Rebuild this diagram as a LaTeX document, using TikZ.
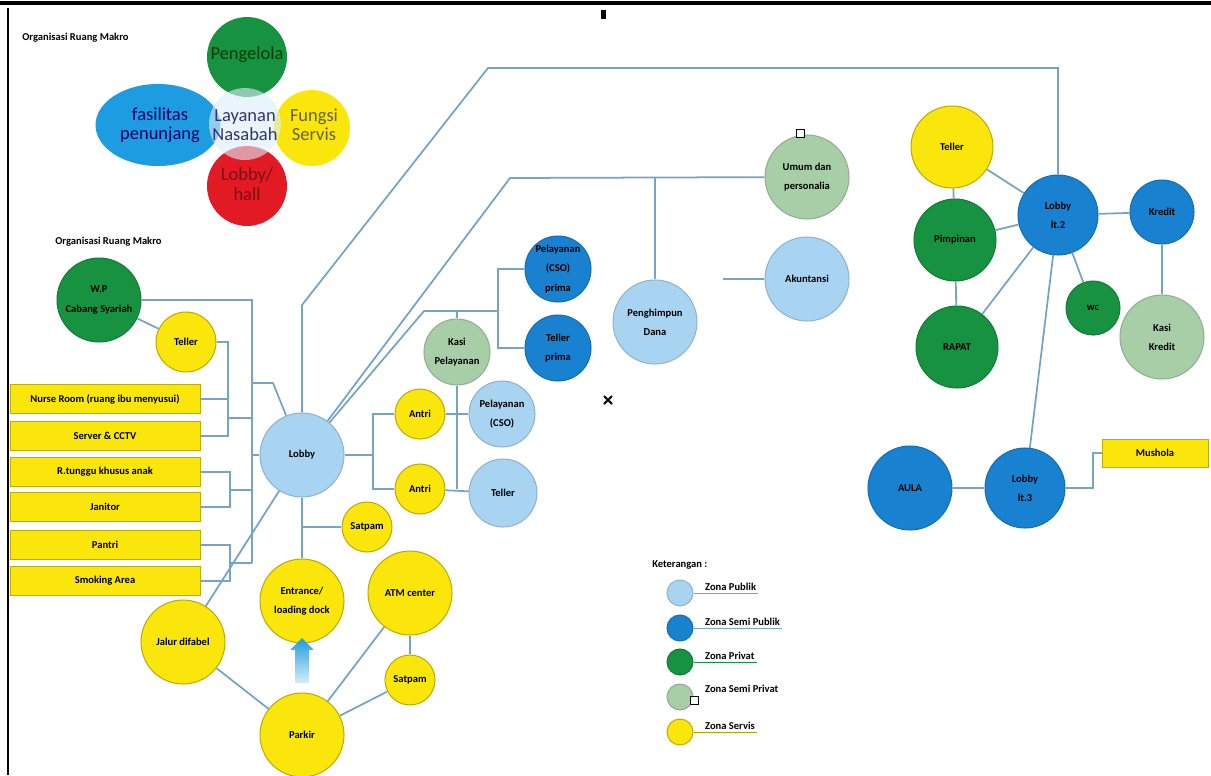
\documentclass[tikz,border=0pt]{standalone}
\usepackage{fontspec}
\setmainfont{Carlito}
\usetikzlibrary{shapes.geometric,shapes.arrows}

\definecolor{zpubc}{RGB}{168,212,242}
\definecolor{zsemipubc}{RGB}{24,130,208}
\definecolor{zprivc}{RGB}{22,146,64}
\definecolor{zsemiprivc}{RGB}{168,206,168}
\definecolor{zservc}{RGB}{250,230,10}
\definecolor{linkc}{RGB}{118,165,195}
\definecolor{hallred}{RGB}{226,26,36}
\definecolor{fasblue}{RGB}{30,156,226}

\newcommand{\zonefont}{\bfseries\fontsize{6}{11}\selectfont}
\newcommand{\bigfont}{\fontsize{10.5}{11}\selectfont}

\begin{document}
\begin{tikzpicture}[x=0.02cm,y=-0.02cm]

\tikzstyle{zone}=[circle,draw,inner sep=0pt,align=center,font=\zonefont,line width=0.6pt]
\tikzstyle{zpub}=[zone,fill=zpubc,draw=zpubc!85!black]
\tikzstyle{zsemipub}=[zone,fill=zsemipubc,draw=zsemipubc!85!black]
\tikzstyle{zpriv}=[zone,fill=zprivc,draw=zprivc!85!black]
\tikzstyle{zsemipriv}=[zone,fill=zsemiprivc,draw=zsemiprivc!85!black]
\tikzstyle{zserv}=[zone,fill=zservc,draw=zservc!75!black]
\tikzstyle{roombox}=[rectangle,draw=zservc!75!black,fill=zservc,minimum width=3.8cm,minimum height=0.58cm,inner sep=0pt,font=\zonefont]
\tikzstyle{link}=[draw=linkc,line width=1pt]
\tikzstyle{title}=[font=\zonefont,anchor=west,inner sep=0pt]
\tikzstyle{leglab}=[font=\zonefont,anchor=south west,inner sep=1pt]
\tikzstyle{bigzone}=[circle,inner sep=0pt,align=center,font=\bigfont]
\tikzset{rad/.style={minimum size=#1*0.04cm}}

\useasboundingbox (0,0) rectangle (1211,775);
\fill[white] (0,0) rectangle (1211,775);
\draw[line width=2.6pt] (0,3) -- (1211,3);
\draw[line width=1.2pt] (8,8) -- (8,775);
\fill (601,10) rectangle (606,19);
\draw[line width=1.1pt] (604,396) -- (612,404) (604,404) -- (612,396);

% makro
\node[title] (makro1) at (22,38) {Organisasi Ruang Makro};
\node[ellipse,fill=fasblue,minimum width=2.5cm,minimum height=1.64cm,inner sep=0pt] (fasilitas) at (158,125) {};
\node[bigzone,fill=zprivc,rad=40] (pengelola) at (247,57) {};
\node[bigzone,fill=hallred,rad=40] (hall) at (247,186) {};
\node[bigzone,fill=zservc,rad=38] (fungsi) at (312,128) {};
\node[bigzone,fill=zpubc!40!white,fill opacity=0.6,rad=36] (layanan) at (245,124) {};
\node[font=\bigfont,align=center,text=black!75!green] at (247,55) {Pengelola};
\node[font=\bigfont,align=center,text=blue!40!black] at (160,125) {fasilitas\\penunjang};
\node[font=\bigfont,align=center,text=blue!30!black!80] at (245,125) {Layanan\\Nasabah};
\node[font=\bigfont,align=center,text=black!70!yellow] at (314,125) {Fungsi\\Servis};
\node[font=\bigfont,align=center,text=hallred!55!black] at (247,184) {Lobby/\\hall};

% mikro
\node[title] (makro2) at (55,242) {Organisasi Ruang Makro};

\node[zpriv,rad=42] (wp) at (99,300) {W.P\\Cabang Syariah};
\node[zserv,rad=30] (tellerA) at (186,342) {Teller};
\node[roombox] (nurse) at (105,399) {Nurse Room (ruang ibu menyusui)};
\node[roombox] (server) at (105,436) {Server \& CCTV};
\node[roombox] (rtunggu) at (105,472) {R.tunggu khusus anak};
\node[roombox] (janitor) at (105,507) {Janitor};
\node[roombox] (pantri) at (105,545) {Pantri};
\node[roombox] (smoking) at (105,581) {Smoking Area};

\node[zpub,rad=42] (lobby) at (302,455) {Lobby};
\node[zserv,rad=25] (antri1) at (420,414) {Antri};
\node[zserv,rad=25] (antri2) at (420,489) {Antri};
\node[zserv,rad=25] (satpamA) at (367,527) {Satpam};
\node[zsemipriv,rad=33] (kasi) at (457,352) {Kasi\\Pelayanan};
\node[zpub,rad=33] (cso) at (502,414) {Pelayanan\\(CSO)};
\node[zpub,rad=34] (tellerB) at (503,493) {Teller};
\node[zsemipub,rad=33] (csoprima) at (558,269) {Pelayanan\\(CSO)\\prima};
\node[zsemipub,rad=33] (tellerprima) at (558,348) {Teller\\prima};
\node[zpub,rad=42] (penghimpun) at (655,322) {Penghimpun\\Dana};
\node[zsemipriv,rad=42] (umum) at (807,177) {Umum dan\\personalia};
\node[zpub,rad=42] (akuntansi) at (807,279) {Akuntansi};

\node[zserv,rad=42] (entrance) at (302,601) {Entrance/\\loading dock};
\node[zserv,rad=42] (atm) at (410,593) {ATM center};
\node[zserv,rad=25] (satpamB) at (410,680) {Satpam};
\node[zserv,rad=42] (jalur) at (183,642) {Jalur difabel};
\node[zserv,rad=42] (parkir) at (302,735) {Parkir};
\node[single arrow,shape border rotate=90,minimum height=0.9cm,inner sep=0.13cm,
  single arrow head extend=0.1cm,top color=fasblue,bottom color=zpubc!45!white] (masuk) at (302,664) {};

% lantai 2 dan 3
\node[zserv,rad=41] (tellerC) at (952,147) {Teller};
\node[zsemipub,rad=40] (lobby2) at (1058,215) {Lobby\\lt.2};
\node[zpriv,rad=41] (pimpinan) at (955,240) {Pimpinan};
\node[zpriv,rad=41] (rapat) at (957,347) {RAPAT};
\node[zsemipub,rad=32] (kredit) at (1162,212) {Kredit};
\node[zpriv,rad=27] (wc) at (1093,308) {wc};
\node[zsemipriv,rad=42] (kasikredit) at (1162,337) {Kasi\\Kredit};
\node[zsemipub,rad=42] (aula) at (910,488) {AULA};
\node[zsemipub,rad=40] (lobby3) at (1025,488) {Lobby\\lt.3};
\node[roombox,minimum width=2.12cm,minimum height=0.56cm] (mushola) at (1155,453) {Mushola};

% simpul
\coordinate (jW) at (252,300);
\coordinate (jW2) at (252,383);
\coordinate (jW3) at (273,383);
\coordinate (jA) at (228,418);
\coordinate (jA2) at (252,418);
\coordinate (jL) at (252,455);
\coordinate (jB) at (230,490);
\coordinate (jB2) at (252,490);
\coordinate (jC) at (230,563);
\coordinate (jC2) at (252,563);
\coordinate (jR) at (373,455);
\coordinate (jK) at (457,489);
\coordinate (jS) at (302,527);
\coordinate (jP1) at (302,305);
\coordinate (jP2) at (488,68);
\coordinate (jQ1) at (510,178);
\coordinate (jQ2) at (655,178);
\coordinate (jT1) at (424,311);
\coordinate (jT2) at (498,311);
\coordinate (jT3) at (457,311);
\coordinate (jAk) at (723,279);
\coordinate (jM) at (1093,488);

\path[link] (wp) -| (jW2) -- (jW3) -- (lobby);
\path[link] (jW2) -- (jC2);
\path[link] (wp) -- (tellerA);
\path[link] (tellerA) -| (jA) -- (jA2);
\path[link] (nurse) -| (jA);
\path[link] (server) -| (jA);
\path[link] (jL) -- (lobby);
\path[link] (rtunggu) -| (jB) -- (jB2);
\path[link] (janitor) -| (jB);
\path[link] (pantri) -| (jC) -- (jC2);
\path[link] (smoking) -| (jC);

\path[link] (lobby) -- (jR);
\path[link] (antri1) -| (jR) |- (antri2);
\path[link] (antri1) -- (cso);
\path[link] (antri2) -- (tellerB);
\path[link] (kasi) -- (jK);

\path[link] (lobby) -- (jP1) -- (jP2) -| (lobby2);
\path[link] (lobby) -- (jQ1) -- (umum);
\path[link] (jQ2) -- (penghimpun);
\path[link] (lobby) -- (jT1) -- (jT2);
\path[link] (jT3) -- (kasi);
\path[link] (csoprima) -| (jT2) |- (tellerprima);
\path[link] (jAk) -- (akuntansi);

\path[link] (lobby) -- (entrance);
\path[link] (jS) -- (satpamA);
\path[link] (lobby) -- (jalur);
\path[link] (jalur) -- (parkir);
\path[link] (parkir) -- (atm);
\path[link] (parkir) -- (satpamB);
\path[link] (atm) -- (satpamB);

\path[link] (tellerC) -- (lobby2);
\path[link] (tellerC) -- (pimpinan);
\path[link] (pimpinan) -- (lobby2);
\path[link] (pimpinan) -- (rapat);
\path[link] (rapat) -- (lobby2);
\path[link] (lobby2) -- (kredit);
\path[link] (kredit) -- (kasikredit);
\path[link] (lobby2) -- (wc);
\path[link] (lobby2) -- (lobby3);
\path[link] (aula) -- (lobby3);
\path[link] (lobby3) -- (jM) |- (mushola);

\draw[fill=white,line width=0.5pt] (796,129) rectangle (804,137);

% keterangan
\node[title] (ket) at (652,565) {Keterangan :};
\node[zpub,rad=13] (lg1) at (680,593) {};
\node[zsemipub,rad=13] (lg2) at (680,628) {};
\node[zpriv,rad=13] (lg3) at (680,662) {};
\node[zsemipriv,rad=13] (lg4) at (680,697) {};
\node[zserv,rad=13] (lg5) at (680,732) {};
\node[leglab] (lab1) at (703,593) {Zona Publik};
\node[leglab] (lab2) at (703,628) {Zona Semi Publik};
\node[leglab] (lab3) at (703,662) {Zona Privat};
\node[leglab] (lab4) at (703,695) {Zona Semi Privat};
\node[leglab] (lab5) at (703,732) {Zona Servis};
\draw[linkc,line width=0.5pt] (lg1) -- (lab1.south east);
\draw[linkc,line width=0.5pt] (lg2) -- (lab2.south east);
\draw[zprivc,line width=0.5pt] (lg3) -- (lab3.south east);
\draw[zservc!70!black,line width=0.5pt] (lg5) -- (lab5.south east);
\draw[fill=white,line width=0.5pt] (690,696) rectangle (698,704);

\end{tikzpicture}
\end{document}
